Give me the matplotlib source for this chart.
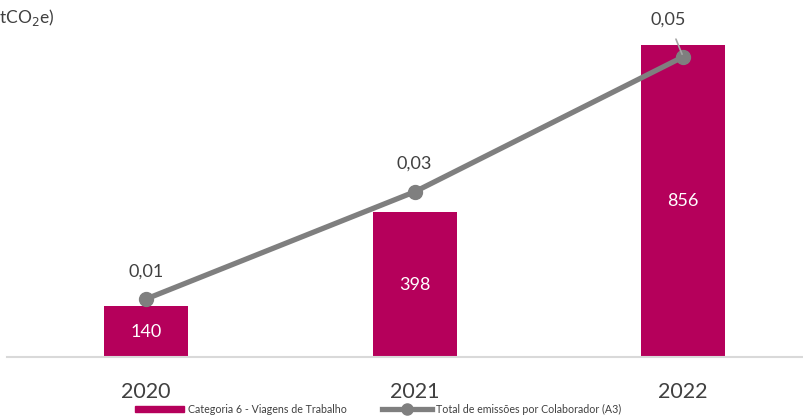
import matplotlib
matplotlib.use("Agg")
import matplotlib.pyplot as plt
from matplotlib.lines import Line2D
from matplotlib.patches import Patch

years = ["2020", "2021", "2022"]
viagens = [140, 398, 856]
por_colaborador = [0.0098, 0.0279, 0.0507]

bar_color = "#B5005B"
line_color = "#7F7F7F"
text_color = "#404040"

plt.rcParams["font.family"] = ["Lato", "DejaVu Sans"]

fig = plt.figure(figsize=(8.04, 4.19), dpi=100)
ax = fig.add_axes([7 / 804, 62 / 419, 797 / 804, 357 / 419])
x = list(range(len(years)))

bars = ax.bar(x, viagens, width=0.313, color=bar_color, zorder=2)
for xi, v in zip(x, viagens):
    ax.text(xi, v / 2, f"{v}", ha="center", va="center", color="white", fontsize=13)

ax.set_xlim(-0.518, 2.45)
ax.set_ylim(0, 980)
ax.set_yticks([])
for s in ["top", "right", "left"]:
    ax.spines[s].set_visible(False)
ax.spines["bottom"].set_color("#D9D9D9")
ax.spines["bottom"].set_linewidth(1.5)
ax.set_xticks(x)
ax.set_xticklabels(years, fontsize=15.5, color=text_color)
ax.tick_params(axis="x", length=0, pad=18)

ax2 = ax.twinx()
ax2.set_ylim(0, 0.0603)
ax2.set_yticks([])
for s in ["top", "right", "left", "bottom"]:
    ax2.spines[s].set_visible(False)
ax2.plot(x, por_colaborador, color=line_color, lw=3.8, marker="o", markersize=10,
         zorder=3)

def fmt(v):
    return f"{v:.2f}".replace(".", ",")

for xi, v in zip(x[:2], por_colaborador[:2]):
    ax2.annotate(fmt(v), (xi, v), xytext=(0, 20), textcoords="offset points",
                 ha="center", va="center", fontsize=13, color=text_color)
ax2.annotate(fmt(por_colaborador[2]), (x[2], por_colaborador[2]), xytext=(-11, 27),
             textcoords="offset points", ha="center", va="center", fontsize=13,
             color=text_color,
             arrowprops=dict(arrowstyle="-", color="#A6A6A6", lw=1.2,
                             shrinkA=7, shrinkB=2))

fig.text(-0.006, 0.958, "(tCO$_2$e)", fontsize=12.5, color=text_color,
         ha="left", va="center")

handles = [Patch(color=bar_color, label="Categoria 6 - Viagens de Trabalho"),
           Line2D([], [], color=line_color, lw=3.8, marker="o", markersize=8,
                  label="Total de emissões por Colaborador (A3)")]
fig.legend(handles=handles, loc="center", bbox_to_anchor=(378 / 804, 0.023), ncol=2,
           frameon=False, fontsize=7.7, labelcolor=text_color, handlelength=4.6,
           handleheight=0.5, columnspacing=3.3, handletextpad=0.4)

fig.savefig("out.png", dpi=100)
